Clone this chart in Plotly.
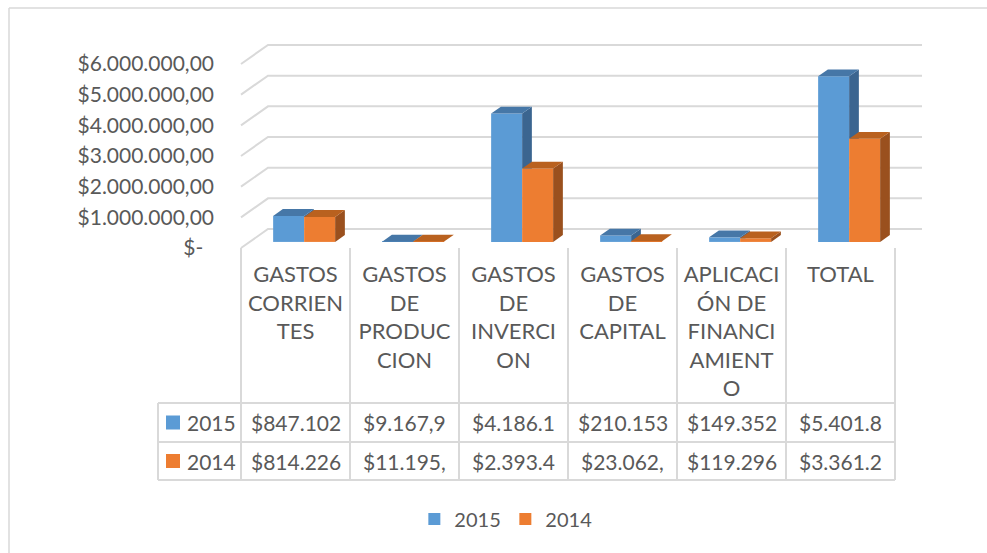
import plotly.graph_objects as go

# ---------------- data ----------------
categories = ["GASTOS CORRIENTES", "GASTOS DE PRODUCCION", "GASTOS DE INVERCION",
              "GASTOS DE CAPITAL", "APLICACIÓN DE FINANCIAMIENTO", "TOTAL"]
category_labels = ["GASTOS<br>CORRIEN<br>TES", "GASTOS<br>DE<br>PRODUC<br>CION",
                   "GASTOS<br>DE<br>INVERCI<br>ON", "GASTOS<br>DE<br>CAPITAL",
                   "APLICACI<br>ÓN DE<br>FINANCI<br>AMIENT<br>O", "TOTAL"]
series_names = ["2015", "2014"]
values_2015 = [847102, 9167.9, 4186100, 210153, 149352, 5401800]
values_2014 = [814226, 11195, 2393400, 23062, 119296, 3361200]
table_2015 = ["$847.102", "$9.167,9", "$4.186.1", "$210.153", "$149.352", "$5.401.8"]
table_2014 = ["$814.226", "$11.195,", "$2.393.4", "$23.062,", "$119.296", "$3.361.2"]
y_tick_values = [0, 1000000, 2000000, 3000000, 4000000, 5000000, 6000000]
y_tick_labels = ["$-\u00a0\u00a0", "$1.000.000,00", "$2.000.000,00", "$3.000.000,00",
                 "$4.000.000,00", "$5.000.000,00", "$6.000.000,00"]

# ---------------- geometry / style ----------------
W, H = 987, 553
COL_W = 109.0          # px per category
X_LEFT = 241.0         # px of front-left edge of category axis
Y_ZERO = 248.0         # px of value 0 on the front plane
PXY = 30.67 / 1e6      # px per unit of value
FLOOR_DX, FLOOR_DY = 27.0, 19.0     # depth offset (px)
BAR_FRONT = 0.32       # depth fraction of bar front face
BAR_DEPTH = 0.36       # depth fraction of bar thickness
BAR_W_PX = 31.0

FONT = "Lato"
TXT = "#595959"
GRID = "#d9d9d9"
FRONT = {"2015": "#5B9BD5", "2014": "#ED7D31"}
TOP = {"2015": "#4677A7", "2014": "#B9611F"}
SIDE = {"2015": "#3B6590", "2014": "#9A501E"}

def dx(px):
    return px / COL_W

def dy(px):
    return px / PXY

def yp(px):
    return 1 - px / H

def xu(px):
    return (px - X_LEFT) / COL_W - 0.5

x_range = [xu(0), xu(W)]
y_range = [-(H - Y_ZERO) / PXY, Y_ZERO / PXY]

n = len(categories)
bw = dx(BAR_W_PX)
sx, sy = dx(BAR_FRONT * FLOOR_DX), dy(BAR_FRONT * FLOOR_DY)
bdx, bdy = dx(BAR_DEPTH * FLOOR_DX), dy(BAR_DEPTH * FLOOR_DY)

fig = go.Figure()

series = {"2015": values_2015, "2014": values_2014}
offsets = {"2015": -bw, "2014": 0.0}

for name in series_names:
    fig.add_trace(go.Bar(
        x=[i + sx for i in range(n)], y=series[name], base=sy,
        width=bw, offset=offsets[name], name=name,
        marker=dict(color=FRONT[name], line=dict(width=0)),
        hoverinfo="skip",
    ))


def clip_above(poly, ylim):
    out = []
    m = len(poly)
    for k in range(m):
        cx, cy = poly[k]
        px_, py_ = poly[k - 1]
        cin, pin = cy >= ylim, py_ >= ylim
        if cin:
            if not pin:
                t = (ylim - py_) / (cy - py_)
                out.append((px_ + t * (cx - px_), ylim))
            out.append((cx, cy))
        elif pin:
            t = (ylim - py_) / (cy - py_)
            out.append((px_ + t * (cx - px_), ylim))
    return out


def add_poly(polys, color):
    xs, ys = [], []
    for p in polys:
        if len(p) < 3:
            continue
        xs += [q[0] for q in p] + [p[0][0], None]
        ys += [q[1] for q in p] + [p[0][1], None]
    fig.add_trace(go.Scatter(x=xs, y=ys, mode="lines", fill="toself",
                             fillcolor=color, line=dict(width=0, color=color),
                             hoverinfo="skip", showlegend=False))


for name in series_names:
    tops, sides = [], []
    for i, v in enumerate(series[name]):
        xl = i + sx + offsets[name]
        xr = xl + bw
        base = sy
        top = sy + v
        tops.append([(xl, top), (xr, top), (xr + bdx, top + bdy), (xl + bdx, top + bdy)])
        side = [(xr, base), (xr + bdx, base + bdy), (xr + bdx, top + bdy), (xr, top)]
        if name == "2015":
            side = clip_above(side, sy + values_2014[i])
        sides.append(side)
    add_poly(sides, SIDE[name])
    add_poly(tops, TOP[name])

shapes = []
# back wall / side wall gridlines
fx = -0.5
for v in y_tick_values:
    shapes.append(dict(type="path", xref="x", yref="y", layer="below",
                       path=f"M {fx},{v} L {fx + dx(FLOOR_DX)},{v + dy(FLOOR_DY)} "
                            f"L {n - 0.5 + dx(FLOOR_DX)},{v + dy(FLOOR_DY)}",
                       line=dict(color=GRID, width=2)))

# data table lines
T_TOP, T_MID, T_BOT = 403, 442, 480
LEG_LEFT = 158
for k in range(n + 1):
    shapes.append(dict(type="line", xref="x", yref="paper", x0=k - 0.5, x1=k - 0.5,
                       y0=yp(Y_ZERO), y1=yp(T_BOT), line=dict(color=GRID, width=2)))
shapes.append(dict(type="line", xref="x", yref="paper", x0=xu(LEG_LEFT), x1=xu(LEG_LEFT),
                   y0=yp(T_TOP), y1=yp(T_BOT), line=dict(color=GRID, width=2)))
for yy in (T_TOP, T_MID, T_BOT):
    shapes.append(dict(type="line", xref="x", yref="paper", x0=xu(LEG_LEFT), x1=n - 0.5,
                       y0=yp(yy), y1=yp(yy), line=dict(color=GRID, width=2)))

# chart border (top and left)
shapes.append(dict(type="line", xref="paper", yref="paper", x0=9 / W, x1=1, y0=yp(8), y1=yp(8),
                   line=dict(color=GRID, width=1.5)))
shapes.append(dict(type="line", xref="paper", yref="paper", x0=9 / W, x1=9 / W, y0=yp(8), y1=0,
                   line=dict(color=GRID, width=1.5)))

annotations = []
row_y = {"2015": (T_TOP + T_MID) / 2, "2014": (T_MID + T_BOT) / 2}
row_txt = {"2015": table_2015, "2014": table_2014}
for name in series_names:
    for i in range(n):
        annotations.append(dict(x=i, y=yp(row_y[name]), xref="x", yref="paper",
                                text=row_txt[name][i], showarrow=False,
                                xanchor="center", yanchor="middle",
                                font=dict(family=FONT, size=21, color=TXT)))
    annotations.append(dict(x=xu(185), y=yp(row_y[name]), xref="x", yref="paper",
                            text=name, showarrow=False, xanchor="left", yanchor="middle",
                            font=dict(family=FONT, size=21, color=TXT)))
    shapes.append(dict(type="rect", xref="x", yref="paper", x0=xu(166), x1=xu(180),
                       y0=yp(row_y[name] - 7), y1=yp(row_y[name] + 7),
                       fillcolor=FRONT[name], line=dict(width=0)))

fig.update_layout(
    width=W, height=H, autosize=False,
    margin=dict(l=0, r=0, t=0, b=0),
    paper_bgcolor="white", plot_bgcolor="white",
    barmode="overlay",
    font=dict(family=FONT, size=21, color=TXT),
    shapes=shapes, annotations=annotations,
    xaxis=dict(range=x_range, domain=[0, 1], anchor="free", position=yp(Y_ZERO + 11),
               tickmode="array", tickvals=list(range(n)), ticktext=category_labels,
               showgrid=False, zeroline=False, showline=False, ticks="",
               tickfont=dict(family=FONT, size=22, color=TXT), fixedrange=True),
    yaxis=dict(range=y_range, domain=[0, 1], anchor="free", position=214 / W,
               tickmode="array", tickvals=y_tick_values, ticktext=y_tick_labels,
               showgrid=False, zeroline=False, showline=False, ticks="",
               tickfont=dict(family=FONT, size=21, color=TXT), fixedrange=True),
    legend=dict(orientation="h", x=0.512, xanchor="center", y=yp(519), yanchor="middle",
                font=dict(family=FONT, size=20, color=TXT), bgcolor="rgba(0,0,0,0)",
                itemwidth=30, entrywidth=46),
    showlegend=True,
)

fig.write_html("out.html", config={"displayModeBar": False},
               post_script="document.body.style.margin='0px';"
                           "document.body.style.overflow='hidden';")
